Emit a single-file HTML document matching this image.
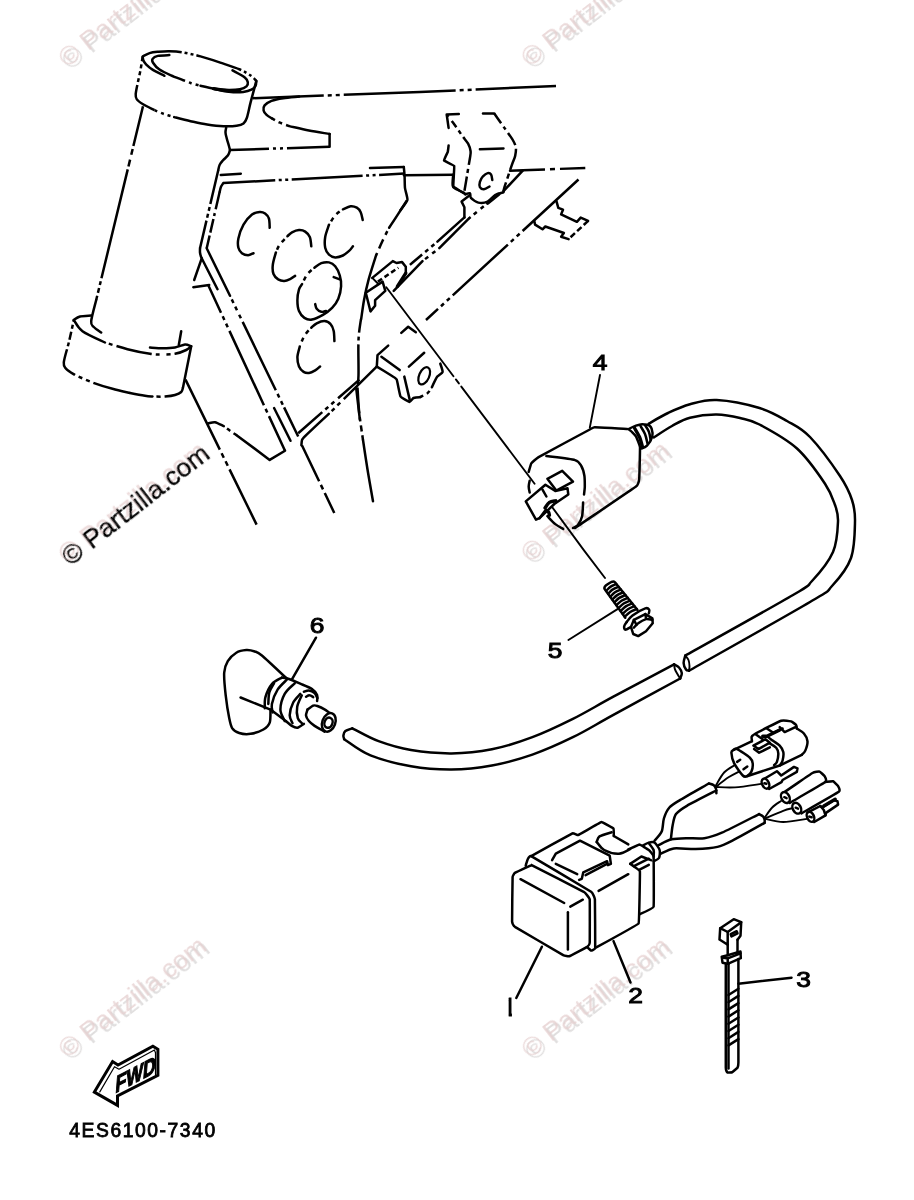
<!DOCTYPE html>
<html lang="en">
<head>
<meta charset="utf-8">
<title>Electrical 1 - 4ES6100-7340</title>
<style>
html,body{margin:0;padding:0;background:#fff;}
body{width:914px;height:1200px;overflow:hidden;position:relative;font-family:"Liberation Sans",sans-serif;}
svg{position:absolute;left:0;top:0;display:block;will-change:transform;}
.s{fill:none;stroke:#000;stroke-width:2.5;stroke-linecap:round;stroke-linejoin:round;}
.t{fill:none;stroke:#000;stroke-width:1.9;stroke-linecap:round;stroke-linejoin:round;}
.k{fill:none;stroke:#000;stroke-width:3.4;stroke-linecap:round;stroke-linejoin:round;}
.p{fill:none;stroke:#000;stroke-width:2.5;stroke-linecap:butt;stroke-linejoin:round;stroke-dasharray:30 3 3 3 3 3;}
.w{fill:#fff;stroke:#000;stroke-width:2.5;stroke-linecap:round;stroke-linejoin:round;}
.n{font-family:"Liberation Sans",sans-serif;font-weight:normal;font-size:22px;fill:#000;stroke:#000;stroke-width:0.95;}
.code{font-family:"Liberation Sans",sans-serif;font-weight:normal;font-size:19.3px;fill:#000;stroke:#000;stroke-width:0.8;}
.fwd{font-family:"Liberation Sans",sans-serif;font-weight:bold;font-style:normal;font-size:27px;fill:#000;stroke:#000;stroke-width:1.4;}
.wm{font-family:"Liberation Sans",sans-serif;font-size:26.5px;}
</style>
</head>
<body>
<svg width="914" height="1200" viewBox="0 0 914 1200">
<!-- watermarks -->
<defs>
<filter id="sh" x="-5%" y="-60%" width="110%" height="200%"><feOffset in="SourceAlpha" dx="-0.6" dy="-4.2" result="o"/><feFlood flood-color="#e6d0d0" flood-opacity="0.8"/><feComposite in2="o" operator="in" result="s"/><feMerge><feMergeNode in="SourceGraphic"/><feMergeNode in="s"/></feMerge></filter>
<filter id="shd" x="-5%" y="-60%" width="110%" height="200%"><feOffset in="SourceAlpha" dx="-0.6" dy="-4.2" result="o"/><feFlood flood-color="#eddcdc"/><feComposite in2="o" operator="in" result="s"/><feMerge><feMergeNode in="s"/><feMergeNode in="SourceGraphic"/></feMerge></filter>
</defs>
<text class="wm" transform="translate(70.3,70.5) rotate(-37.8)" x="0" y="0" fill="#e0dede" filter="url(#sh)">© Partzilla.com</text>
<text class="wm" transform="translate(533.0,69.9) rotate(-37.8)" x="0" y="0" fill="#e0dede" filter="url(#sh)">© Partzilla.com</text>
<text class="wm" transform="translate(70.3,566.4) rotate(-37.8)" x="0" y="0" fill="#000" stroke="#000" stroke-width="0.5" filter="url(#shd)">© Partzilla.com</text>
<text class="wm" transform="translate(533.0,565.5) rotate(-37.8)" x="0" y="0" fill="#e0dede" filter="url(#sh)">© Partzilla.com</text>
<text class="wm" transform="translate(70.3,1061.2) rotate(-37.8)" x="0" y="0" fill="#e0dede" filter="url(#sh)">© Partzilla.com</text>
<text class="wm" transform="translate(533.3,1061.4) rotate(-37.8)" x="0" y="0" fill="#e0dede" filter="url(#sh)">© Partzilla.com</text>
<!-- frame: head tube upper ring -->
<path class="p" d="M142.7 56.4 C143.8 55.9 147.1 53.9 149.6 53.1 C152.1 52.3 154.5 52.1 157.8 51.8 C161.1 51.5 165.2 51.1 169.3 51.2 C173.4 51.3 177.2 51.4 182.4 52.3 C187.6 53.2 194.2 54.7 200.5 56.4 C206.8 58.1 213.6 60.4 220.2 62.6 C226.8 64.8 234.7 67.2 239.9 69.5 C245.1 71.8 248.7 74.2 251.4 76.1 C254.1 78 255.5 80.2 256.3 81" style="stroke-dasharray:40 3 3 3 3 3 47 3 3 3 3 3 100"/>
<path class="s" d="M142.7 56.4 C142.8 57.1 142.8 59.1 143.4 60.5 C144 61.9 144.7 63 146.3 64.6 C147.9 66.2 149.9 68 152.9 69.9 C155.9 71.8 162.5 74.8 164.4 75.8"/>
<path class="s" d="M213.6 88.7 C215.2 89.1 220.2 90.3 223.5 90.9 C226.8 91.5 230 92 233.3 92.2 C236.6 92.4 240.2 92.3 243.2 91.9 C246.2 91.5 249.3 90.7 251.4 89.7 C253.5 88.7 254.7 87.5 255.5 86 C256.3 84.5 256.2 81.8 256.3 81"/>
<path class="k" d="M213.6 88.7 C215.2 89 220.2 89.8 223.5 90.2 C226.8 90.6 230.6 91 233.3 91.2 C236 91.4 238.8 91.2 239.9 91.2"/>
<path class="s" d="M169.3 55.1 C167.4 55.2 160.6 55.3 157.8 55.9 C155 56.5 153.4 57.7 152.6 58.9 C151.8 60.1 152 61.2 153.2 63 C154.3 64.8 156.5 67.5 159.5 69.5 C162.5 71.5 167.2 73.6 171 75.3 C174.8 77 180.5 79.1 182.4 79.9"/>
<path class="p" d="M182.4 79.9 C183.8 80.4 187.6 82 190.6 83 C193.6 84 198.8 85.3 200.5 85.8" style="stroke-dasharray:3 4 3 4 3 4"/>
<path class="s" d="M200.5 85.8 C202.7 86.3 209.2 88 213.6 88.7 C218 89.4 222.4 89.8 226.8 89.9 C231.2 90 236.6 89.8 239.9 89.2 C243.2 88.6 245.2 87.5 246.5 86.3 C247.8 85.1 248.1 83.8 247.8 82.3 C247.5 80.8 247.4 79.4 244.8 77.4 C242.2 75.4 234.6 71.6 232.5 70.4"/>
<path class="p" d="M142.7 56.4 C142.3 58.6 141.4 65.1 140.6 69.5 C139.8 73.9 138.6 78.6 137.8 82.7 C137 86.8 135.9 91.4 135.7 94.2 C135.5 97 135.6 97.7 136.8 99.4 C138 101.1 140.2 102.5 143.1 104.3 C146 106.1 152.6 109.2 154.5 110.2" style="stroke-dasharray:5 3 4 3 4 3 4 3 100"/>
<path class="p" d="M154.5 110.2 C156.2 110.9 161.1 113.1 164.4 114.2 C167.7 115.3 172.6 116.6 174.2 117.1" style="stroke-dasharray:3 4 3 4 3 4"/>
<path class="s" d="M174.2 117.1 C176.9 117.8 185.1 120 190.6 121.2 C196.1 122.4 201.6 123.7 207.1 124.5 C212.6 125.3 218.6 126 223.5 126.2 C228.4 126.4 233.3 126.2 236.6 125.7 C239.9 125.2 241.8 124.7 243.5 123.4 C245.2 122.1 245.6 121.5 246.8 118 C248 114.5 249 108.6 250.6 102.4 C252.2 96.2 255.4 84.6 256.3 81"/>
<!-- frame: head tube body -->
<path class="p" d="M143 106.2 L96.2 300" style="stroke-dasharray:41 3 6 5 7 3 112 3 4 3 5 3 100"/>
<path class="s" d="M96.2 300 C95.4 303.5 91.6 316.7 91.2 321.2 C90.8 325.7 92.1 325.1 93.8 327 C95.5 328.9 100 331.6 101.2 332.5"/>
<path class="s" d="M226.2 127.5 C226.1 128.3 225.4 130.7 225.5 132.5 C225.6 134.3 226.2 136.2 226.7 138.3 C227.2 140.4 228.1 143.1 228.7 145 C229.2 146.9 229.8 149.2 230 150"/>
<path class="p" d="M230 150 L329.6 146.8" style="stroke-dasharray:39 4 3 4 3 4 60"/>
<path class="s" d="M230 150 C229.7 150.9 229.2 153.6 228 155.3 C226.8 157 224.4 158.7 223 160.3 C221.6 161.9 220.5 163.1 219.7 164.7 C218.9 166.3 218.5 169.1 218.3 170"/>
<path class="p" d="M218.3 170 L200 248.3" style="stroke-dasharray:35 3 4 3 4 3 100"/>
<path class="s" d="M200 248.3 C200 248.6 199.9 251.8 200 252.5 C200.1 253.2 200.5 255.9 201.7 258.3 C202.9 260.7 216.4 287.1 217.5 289.2"/>
<path class="p" d="M223.3 183 L404.4 173.6" style="stroke-dasharray:52 3.5 3 3.5 3 3.5 71 3.5 3 3.5 3 3.5 40"/>
<path class="s" d="M223.3 183 C223.1 183.4 221.4 185.8 221 186.7 C220.6 187.6 219.8 191.2 219.7 191.7"/>
<path class="p" d="M219.7 191.7 L206.7 248.3" style="stroke-dasharray:18 4 3 3 14 3 100"/>
<path class="s" d="M206.7 248.3 L230 295.8"/>
<path class="s" d="M220.8 175 L240.8 173.7"/>
<path class="s" d="M201.7 258.3 L194.2 280"/>
<path class="s" d="M193.3 287.2 L209.2 285"/>
<!-- frame: top tube + gusset -->
<path class="p" d="M252.8 98.2 L420 92 L556 86" style="stroke-dasharray:71 4 4 4 4 4 112 4 4 4 4 4 100"/>
<path class="s" d="M299.1 96.6 C296.5 96.9 287.9 97.5 283.3 98.2 C278.7 98.9 274.6 99.7 271.5 100.9 C268.4 102.1 265.9 103.8 264.6 105.4 C263.3 107 263.3 108.8 263.6 110.4 C263.9 112 265.3 113.6 266.6 114.9 C267.9 116.2 270.7 117.7 271.5 118.2"/>
<path class="p" d="M271.5 118.2 C272.8 118.9 276.4 121.1 279.4 122.4 C282.3 123.7 287.6 125.5 289.2 126.1" style="stroke-dasharray:4 4 4 4 4 4"/>
<path class="s" d="M289.2 126.1 C292.5 126.8 302.2 129.2 308.9 130.5 C315.6 131.8 326.2 133.4 329.6 134"/>
<path class="s" d="M329.6 134 L329.6 146.8"/>
<path class="s" d="M370 167.9 L403.8 167.1"/>
<path class="s" d="M403.8 167.1 C403.9 168 404.5 174.2 404.6 176.3 C404.7 178.4 404.7 185.8 405 188.2 C405.3 190.6 407.8 197.8 407.4 200 C406.9 202.2 401.2 209 400.5 210"/>
<!-- frame: down tube right edge curve -->
<path class="s" d="M406.7 200.7 C405.3 202.9 401.3 209.2 398.4 213.7 C395.5 218.2 390.7 225.4 389.1 227.7"/>
<path class="p" d="M389.1 227.7 C388 229.9 384.8 236 382.6 240.7 C380.4 245.3 377.1 253.1 376 255.6" style="stroke-dasharray:0 4 4 5 10 5 40"/>
<path class="s" d="M376 255.6 C374.8 259.6 370.6 272.3 368.6 279.7 C366.6 287.1 365.2 293.7 364 300.2 C362.8 306.7 361.7 315.7 361.2 318.8"/>
<path class="p" d="M361 318.8 C360.6 322.3 358.9 330.6 358.5 340 C358.1 349.4 358.7 367.1 358.5 375 C358.3 382.9 357.7 385.4 357.5 387.5" style="stroke-dasharray:14 4 4 4 40"/>
<path class="p" d="M357.5 387.5 C357.8 391.7 358.3 403.8 359.2 412.5 C360.1 421.2 362.4 435.4 363 440" style="stroke-dasharray:26 4 4 4 6 4 40"/>
<path class="s" d="M363 440 C363.8 445.4 366.3 462.3 368 472.5 C369.7 482.7 372.2 496.4 373 501.2"/>
<!-- frame: second line right part + upper bracket -->
<path class="s" d="M403.9 175.2 L453.2 174.7"/>
<path class="s" d="M453.2 174.7 C453.2 175.3 452.1 184.8 452.7 185.8 C453.3 186.8 464.7 193.8 465.3 194.2"/>
<path class="s" d="M465.3 194.2 C465.9 194.1 469.3 192.8 470 193.3 C470.7 193.8 469.8 196.7 470.9 197.9 C472 199.1 476.1 202.1 478.3 202.6 C480.5 203.1 485.4 202.6 487.6 201.6 C489.8 200.6 493 196.3 495.1 195.1 C497.2 193.9 502.4 192.7 503.5 192.3"/>
<path class="s" d="M470 195.1 L461.6 201.6 L464.4 207.2 L464.4 217.4"/>
<path class="s" d="M458.8 114 L446.7 114.5 L448.6 127.9"/>
<path class="p" d="M446.7 114.5 C447.7 115.8 452.1 121.3 454.2 124.2 C456.3 127.1 460.7 133.7 462.6 136.3 C464.5 138.9 467 141.7 468.1 143.7 C469.2 145.7 470.3 149.3 470.6 151.2 C470.9 153.1 470.5 154.6 470 157.7 C469.5 160.8 467.9 169.9 467.2 174.4 C466.5 178.9 464.8 188.9 464.4 191.1" style="stroke-dasharray:3 5 8 4 4 4 30 4 4 4 14 4 4 4 30"/>
<path class="s" d="M448.6 145.6 C448.6 145.8 447.9 151.6 447.7 152.1 C447.5 152.6 443.8 160 444 160.5 C444.2 161 453.9 165.1 454.2 166 C454.5 166.9 453 186.5 453.3 187.4 C453.6 188.3 464 192.8 464.4 193"/>
<path class="s" d="M483 113.4 L494.2 113.4"/>
<path class="p" d="M494.2 113.4 C495.6 115.3 501.9 124.4 504.4 127.9 C506.9 131.4 511.3 137.4 512.8 140 C514.3 142.6 515.6 145.3 515.9 147.4 C516.2 149.5 515.7 153.4 515.2 155.8 C514.7 158.2 513.2 160.9 511.8 165.1 C510.4 169.3 505.5 183.8 504.4 187.4 C503.3 191 503.6 191.5 503.5 192.1" style="stroke-dasharray:12 4 4 4 14 4 22 4 5 4 40"/>
<path class="s" d="M479.9 149.3 L503.5 148.4"/>
<path class="s" d="M492.3 180 C492.1 179.1 491.8 175.6 491 174.4 C490.2 173.2 489 172.8 487.7 173.1 C486.4 173.4 484.3 174.9 483 176.3 C481.7 177.8 480.4 180 479.9 181.8 C479.4 183.6 479.2 185.8 479.9 187.1 C480.6 188.3 482.3 189.4 483.9 189.3 C485.5 189.2 488.6 187 489.5 186.5"/>
<path class="s" d="M510 170.7 L523 170.3 L503.5 191.1"/>
<path class="p" d="M523 170.3 L585.3 167.9" style="stroke-dasharray:22 5 5 5 40"/>
<!-- frame: diagonals below bracket -->
<path class="s" d="M464.4 217.4 L437.4 241.6"/>
<path class="p" d="M437.4 241.6 L407.7 266.7" style="stroke-dasharray:0 4 4 4 4 4 12"/>
<path class="k" d="M498.8 194.2 L487.6 203.1"/>
<path class="p" d="M487.6 203.1 L469 218.4" style="stroke-dasharray:0 5 4 5 4 4 12"/>
<path class="s" d="M469 218.4 L439.3 248.1"/>
<path class="p" d="M439.3 248.1 L422.5 261.1" style="stroke-dasharray:0 5 4 5 4 4 12"/>
<path class="s" d="M422.5 261.1 L393.7 290.9"/>
<path class="k" d="M405.8 273.2 L397.4 286.3"/>
<path class="s" d="M372.3 277.9 L392.8 261.1 L396.5 263 L402.1 262.1 L405.8 266.7 L405.8 273.2"/>
<path class="s" d="M365.8 292.8 L382.6 281.6 L385.3 290.9 L375.1 300.2 L375.1 305.8 L370.5 311.4 L365.8 292.8"/>
<path class="t" d="M372.3 277.9 L377.9 283.5"/>
<path class="p" d="M377.9 281.6 L398.4 267.7" style="stroke-dasharray:5 3"/>
<path class="p" d="M578.5 179.5 L426 320" style="stroke-dasharray:76 4 4 4 4 4 75 4 4 4 4 4 100"/>
<path class="s" d="M556.5 201.4 L558.3 207.9 L563 209.7 L561.1 214.4 L576.9 221.8 L580.7 217.6 L588.1 220.9"/>
<path class="p" d="M588.1 220.9 L568.6 239.1" style="stroke-dasharray:6 3"/>
<path class="s" d="M568.6 239.1 L561.1 236.7 L563.9 233 L545.3 226.5 L542.5 229.3 L535.1 224.6 L534.2 220.9"/>
<!-- frame: lightening holes -->
<path class="s" d="M269.7 227.8 C269.6 226.2 269.7 220.9 268.9 218.5 C268.1 216.1 266.6 214.7 265.1 213.6 C263.6 212.5 261.9 211.8 259.7 212 C257.5 212.2 254.7 212.5 252 214.6 C249.3 216.7 245.8 220.7 243.5 224.7 C241.2 228.7 239.2 234.7 238.4 238.5 C237.6 242.3 237.8 245.4 238.4 247.8 C239 250.2 240.3 252 241.9 253.2 C243.5 254.4 246.2 255.2 248.1 255.2 C250 255.2 252.6 253.5 253.5 253.2"/>
<path class="s" d="M311.3 246.3 C311.1 244.8 310.8 239.4 309.8 237 C308.8 234.6 307 232.8 305.2 231.6 C303.4 230.4 301.2 230 299 230.1 C296.8 230.2 293.9 231.4 292 232.4 C290.1 233.4 288.2 235.6 287.4 236.2"/>
<path class="p" d="M287.4 236.2 C286.1 237.6 281.6 242 279.7 244.7 C277.8 247.4 276.5 251.1 275.9 252.4" style="stroke-dasharray:0 4 4 5 4 5 30"/>
<path class="s" d="M275.9 252.4 C275.4 254.5 273.2 261.2 272.8 264.8 C272.4 268.4 272.6 271.6 273.5 274 C274.4 276.4 276.4 278.2 278.2 279.4 C280 280.5 282.2 281 284.3 280.9 C286.4 280.8 288.7 279.7 290.5 278.9 C292.3 278.1 294.3 276.4 295.1 275.9"/>
<path class="s" d="M362.7 220 C362.4 218.7 361.7 214.4 360.7 212.3 C359.7 210.2 358.5 208.7 356.8 207.7 C355.1 206.7 352.9 205.9 350.6 206.2 C348.3 206.5 344.2 208.8 342.9 209.3"/>
<path class="p" d="M342.9 209.3 C341.6 210.3 337.5 212.8 335.2 215.4 C332.9 218 330 223.1 329 224.7" style="stroke-dasharray:0 4 4 5 4 5 30"/>
<path class="s" d="M329 224.7 C328.4 226.8 325.8 233.2 325.2 237 C324.6 240.8 324.6 244.9 325.2 247.8 C325.8 250.8 327.3 253.1 329 254.7 C330.7 256.3 332.9 257.3 335.2 257.4 C337.5 257.5 340.6 256.6 342.9 255.5 C345.2 254.4 347.4 252.4 349.1 250.9 C350.8 249.4 352.3 247.1 352.9 246.3"/>
<path class="s" d="M314.4 267.8 C315.5 267 318.9 264.1 321.3 263.2 C323.7 262.3 326.7 261.9 329 262.4 C331.3 262.9 333.4 264.1 335.2 266.3 C337 268.5 338.8 272.2 339.8 275.5 C340.8 278.8 341.4 282.4 341.1 286.3 C340.9 290.2 339.8 295.1 338.3 298.7 C336.8 302.3 334.7 305.2 332.1 307.9 C329.5 310.6 326.2 313 322.9 314.9 C319.6 316.8 315.2 319 312.1 319.5 C309 320 306.6 319.3 304.4 317.9 C302.2 316.5 300.2 313.9 299 311 C297.8 308.1 297.4 303.8 297.4 300.2 C297.4 296.6 298.2 292.1 299 289.4 C299.8 286.7 301.6 284.9 302.1 284"/>
<path class="p" d="M302.1 284 C303 282.3 305.4 276.7 307.5 274 C309.6 271.3 313.2 268.8 314.4 267.8" style="stroke-dasharray:0 4 4 5 4 5 30"/>
<path class="s" d="M333.7 277.1 L339.8 279.4"/>
<path class="s" d="M315.2 304.1 C315.4 304.9 315.7 307.4 316.7 308.7 C317.7 310 319.8 311.4 321.3 311.8 C322.9 312.2 325.2 311.1 326 311"/>
<path class="s" d="M334.4 341.1 C334.3 339.4 334.3 333.9 333.7 331.1 C333.1 328.3 332.2 325.8 330.6 324.1 C329.1 322.4 326.7 321.1 324.4 321 C322.1 320.9 318.9 322.2 316.7 323.3 C314.5 324.4 312.2 327 311.3 327.7"/>
<path class="p" d="M311.3 327.7 C310.1 329 306.3 332.6 304.4 335.7 C302.5 338.8 300.6 344.7 299.8 346.5" style="stroke-dasharray:0 4 4 5 4 5 30"/>
<path class="s" d="M299.8 346.5 C299.4 348.3 297.5 354 297.4 357.3 C297.3 360.6 298 364.1 299 366.5 C300 368.9 301.9 370.8 303.6 371.9 C305.3 373 307.1 373.2 309 373 C310.9 372.8 313.3 371.5 315.2 370.4 C317.1 369.3 319.3 367.1 320.1 366.5"/>
<!-- frame: plate left/lower edges -->
<path class="p" d="M208.4 285.5 L285 450.7" style="stroke-dasharray:30 4 4 4 4 4 82 4 4 4 40"/>
<path class="s" d="M274.1 408 L290.5 440.8"/>
<path class="p" d="M230 295.8 L298.2 436.5" style="stroke-dasharray:0 4 4 4 4 5 4 4 76 4 4 4 4 3 40"/>
<path class="s" d="M208.4 423.3 C209.3 423.2 212.9 421.8 215 422.2 C217.1 422.6 222.6 425.7 223.8 426.2"/>
<path class="p" d="M223.8 426.2 C224.9 427 228.1 429.5 230.3 431 C232.5 432.5 235.8 434.7 236.9 435.4" style="stroke-dasharray:0 4 4 4 40"/>
<path class="s" d="M236.9 435.4 L269.7 459.9 L285 450.7"/>
<path class="p" d="M185.5 379.6 L256.6 524.6" style="stroke-dasharray:78 4 5 4 5 4 100"/>
<path class="p" d="M298.2 433.2 L359.4 379.6" style="stroke-dasharray:32 4 4 4 4 5 40"/>
<path class="s" d="M301.4 445.2 C301.5 444.6 301.6 440.8 302.1 439.7 C302.7 438.6 304.2 436.9 306.9 434.3 C309.6 431.7 326.6 415.9 328.8 413.9"/>
<path class="p" d="M328.8 413.9 L376.7 366.7" style="stroke-dasharray:0 4 4 4 4 5 60"/>
<path class="p" d="M301.9 445.2 L334.3 513" style="stroke-dasharray:40 4 5 4 40"/>
<!-- frame: lower bracket -->
<path class="s" d="M401.3 332.9 L408.2 326.8 L415.8 332.2"/>
<path class="s" d="M388.2 345.6 L377.5 355.1 L376.8 366.6"/>
<path class="s" d="M381.4 356.7 L399.7 370.1"/>
<path class="s" d="M376.8 366.6 C377.5 367 389.5 374.4 390.5 375 C391.5 375.6 396.2 378.5 396.7 379.6 C397.2 380.7 399.9 395.4 400.5 396.5 C401.1 397.6 409.1 401.8 409.7 401.9 C410.3 402 413 398.2 413.5 398 C414 397.8 419.3 397.3 419.6 397.3"/>
<path class="p" d="M419.6 397.3 C420.9 396.6 425.2 395.1 427.3 393.4 C429.4 391.7 431.1 388.3 431.9 387.3" style="stroke-dasharray:4 4"/>
<path class="s" d="M431.9 387.3 C432.4 386.2 436.2 378.1 437.3 376.6 C438.4 375.1 442.3 373.3 442.6 372 C442.9 370.7 440.5 364.4 440.3 363.6"/>
<path class="s" d="M404.3 376.6 L409.7 399.6"/>
<path class="s" d="M408.9 366.6 L424.2 352.8"/>
<ellipse class="k" cx="424.2" cy="375.8" rx="5" ry="9.2" transform="rotate(24 424.2 375.8)" style="stroke-width:2.2"/>
<path class="s" d="M356.1 387.3 L359.9 419.9"/>
<!-- frame: lower ring of head tube -->
<path class="s" d="M91.2 315.5 C89.3 315.7 82.9 315.8 80 316.5 C77.1 317.2 74.8 319.4 73.8 320"/>
<path class="s" d="M73.8 320 C75.2 321.9 77.3 327.4 82.5 331.2 C87.7 334.9 101.2 340.6 105 342.5"/>
<path class="p" d="M105 342.5 C108.8 343.6 120 347.3 127.5 349.2 C135 351.1 144.2 352.9 150 353.8 C155.8 354.7 160.4 354.4 162.5 354.5" style="stroke-dasharray:0 4 4 4 36 4 4 4 40"/>
<path class="p" d="M162.5 354.5 C164.6 354.4 171.1 354.6 175 353.8 C178.9 353.1 183.5 351.3 186.2 350 C188.9 348.7 190.4 346.8 191.2 346.2" style="stroke-dasharray:0 4 4 4 40"/>
<path class="p" d="M73.8 320 C73 323.8 70.5 335.4 68.8 342.5 C67.1 349.6 64.2 358.1 63.8 362.5 C63.4 366.9 64.3 366.7 66.2 368.8 C68.1 370.9 73.5 374 75 375" style="stroke-dasharray:2 3 4 3 8 3 4 3 100"/>
<path class="p" d="M75 375 C77.9 376.2 86.2 380.2 92.5 382.5 C98.8 384.8 106.2 387.1 112.5 388.8 C118.8 390.6 127.1 392.3 130 393" style="stroke-dasharray:0 4 4 4 4 4 40"/>
<path class="s" d="M130 393 C132.5 393.5 141.2 395.2 145 395.8 C148.8 396.4 151.2 396.4 152.5 396.5"/>
<path class="p" d="M152.5 396.5 C154.6 396.5 161.2 396.8 165 396.5 C168.8 396.2 172.3 395.8 175 395 C177.7 394.2 179.9 393.2 181.2 392 C182.5 390.8 182.7 388.2 183 387.5" style="stroke-dasharray:0 4 4 4 40"/>
<path class="s" d="M183 387.5 L191.2 346.2"/>
<path class="s" d="M181.2 331.2 L178.8 345"/>
<path class="s" d="M150 347.5 C151.7 347.6 159.2 348.2 162.5 348.2 C165.8 348.2 172 348 175 347.5 C178 347 182.8 344.7 185 344.5 C187.2 344.3 190.4 346 191.2 346.2"/>
<!-- ignition coil (4) -->
<path class="s" d="M528.7 471.9 C528.8 471.6 530.9 464 531.3 463.4 C531.7 462.8 536.3 458.5 538.6 457.1 C540.9 455.7 587.6 430.7 589.8 429.5 C592 428.3 593.2 427.2 594.7 427.2 C596.2 427.2 626.5 428.7 628.2 429.1 C629.9 429.5 635.5 435.7 636 436.4 C636.5 437.1 639.9 445.6 640 447.3 C640.1 449 639.4 477.2 639.2 478.8 C639 480.4 638.6 484.6 636 486.6 C633.4 488.6 577.4 526.3 575 528"/>
<path class="s" d="M546.4 456.1 C549.7 456.6 570.9 458.9 575 460.1 C579.1 461.3 580.2 464.2 581.3 466 C582.4 467.8 584 473.4 584.4 475.8 C584.8 478.2 584.8 484.4 584.8 486.6 C584.8 488.8 584.1 493.6 584 494.5"/>
<path class="s" d="M583.1 502.4 C583 504 582.7 513.6 582.1 516.2 C581.5 518.8 579 523.6 577.9 525 C576.8 526.4 573.6 527.6 573 528"/>
<path class="s" d="M529.7 480.7 C529.5 481.7 528.7 484.6 528.7 486.6 C528.7 488.6 529.5 491.6 529.7 492.6"/>
<path class="s" d="M547.4 516.2 C548.7 517.5 552.7 522 555.3 524.1 C557.9 526.2 561.9 528.2 563.2 529"/>
<path class="s" d="M547.4 478.8 L562.2 470.9 L573 481.7 L556.3 490.6Z"/>
<path class="w" d="M525.8 501.4 L545.4 484.7 L555.3 491 L567.5 488.2 L568.3 494.5 L554.3 504 L539.5 518.2 L536 519.7Z"/>
<path class="s" d="M542.5 489.6 L546.4 496.5"/>
<path class="k" d="M545.1 507.9 C545.8 507 547.6 503.6 549.4 502.4 C551.2 501.2 554.7 501.1 555.7 500.8"/>
<path class="k" d="M546.4 510.3 C546.8 510.6 548.1 511.4 548.6 512.2 C549.1 513 549.3 514.7 549.4 515.2"/>
<path class="s" d="M539.5 518.2 L545.4 510.3"/>
<path class="t" d="M386.3 287.2 L534.6 483.7" style="stroke-dasharray:111.5 4 5 4 300"/>
<path class="t" d="M552.3 507.3 L583.8 550.1 L605 578"/>
<path class="s" d="M628.6 429 C629.6 428.5 634.2 426.2 636 425.6 C637.8 425 640.5 424.3 642.2 424.2 C643.9 424.1 647.9 424.9 648.8 425"/>
<path class="s" d="M648.8 425 C649.3 425.6 651 426.7 651.6 428.6 C652.2 430.5 653.1 433.5 652.3 436.3 C651.5 439.1 649 443.6 647 445.6 C645 447.7 641.6 448.1 640.5 448.6"/>
<path class="k" d="M634.5 428 C635.3 429.5 638.1 433.8 639.5 437 C640.9 440.2 642.1 445.8 642.6 447.5"/>
<path class="s" d="M640.5 426 C641.2 427.3 643.8 431.1 645 434 C646.2 436.9 647.1 441.9 647.5 443.5"/>
<path class="s" d="M645 425 C645.7 426.2 648.1 429.5 649 432 C649.9 434.5 650.3 438.7 650.6 440"/>
<path class="t" d="M600 375 L589.8 427.6"/>
<!-- high tension cable -->
<path class="s" d="M648.8 423.6 C652 421.8 661.1 416.2 668 413 C674.9 409.8 681.9 406.5 690 404.3 C698.1 402.1 705.1 399.4 716.7 400 C728.3 400.6 747.8 404.5 759.5 408 C771.2 411.5 778.6 416.2 787 421 C795.4 425.8 801.2 427.8 810 437 C818.8 446.2 833 465.5 840 476 C847 486.5 849.5 492.4 852 500 C854.5 507.6 855.2 511.8 855 521.5 C854.8 531.2 854.8 547.2 851 558 C847.2 568.8 838.8 578.7 832 586 C825.2 593.3 833.8 587.9 810 602 C786.2 616.1 709.2 659.2 689 670.7"/>
<path class="s" d="M653.8 437.4 C656.8 435.5 666 429.3 672 426 C678 422.7 682.5 419.6 690 417.7 C697.5 415.8 708.4 414.4 716.7 414.5 C725 414.6 732.9 416.3 740 418 C747.1 419.7 750 419.4 759.5 424.5 C769 429.6 786.1 438.6 797 448.5 C807.9 458.4 818.7 474.3 825 483.7 C831.3 493.1 832.8 498.7 835 505 C837.2 511.3 838.3 513.7 838 521.5 C837.7 529.3 837.3 542.1 833 552 C828.7 561.9 818.7 573.8 812 581 C805.3 588.2 814.1 582.6 793 595 C771.9 607.4 703.2 645.5 685.3 655.6"/>
<path class="s" d="M685.3 655.6 C685 656.8 683.5 660.7 683.6 663 C683.7 665.3 685.1 668.2 686 669.5 C686.9 670.8 688.5 670.5 689 670.7"/>
<path class="t" d="M685.3 655.6 C685.8 656.3 687.8 658.3 688.5 660 C689.2 661.7 689.4 664.2 689.5 666 C689.6 667.8 689.1 669.9 689 670.7"/>
<path class="s" d="M352.3 728.3 C356.7 730.4 368.8 737.6 378.6 741.2 C388.4 744.8 398.9 748.1 411 750.1 C423.1 752.1 438 753.5 451.5 753.4 C465 753.3 478.4 752 491.9 749.3 C505.4 746.6 518.9 742.3 532.4 737.2 C545.9 732.1 559.4 725.6 572.9 718.9 C586.4 712.1 596.5 705.8 613.4 696.7 C630.3 687.6 664 669.7 674.1 664.3"/>
<path class="s" d="M344.2 739.2 C348.6 741.9 359.4 750.9 370.5 755.4 C381.6 759.9 397.5 763.9 411 766.3 C424.5 768.7 438 769.7 451.5 769.6 C465 769.5 478.4 768 491.9 765.5 C505.4 763 518.9 759.3 532.4 754.6 C545.9 749.9 559.4 743.8 572.9 737.2 C586.4 730.6 595.5 724.7 613.4 714.9 C631.3 705.1 669.1 684.6 680.2 678.5"/>
<path class="s" d="M352.3 728.3 C351.1 728.8 346.9 729.9 345.4 731.1 C343.9 732.3 343.6 734.1 343.4 735.5 C343.2 736.9 344.1 738.6 344.2 739.2"/>
<path class="s" d="M674.1 664.3 C674.9 664.8 677.7 666 679 667.5 C680.3 669 681.6 671.4 681.8 673.2 C682 675 680.5 677.6 680.2 678.5"/>
<path class="t" d="M674.1 664.3 C674.2 665.1 674.4 667.5 674.9 669.1 C675.4 670.7 676.5 672.4 677.4 674 C678.3 675.6 679.7 677.8 680.2 678.5"/>
<!-- plug cap (6) -->
<path class="s" d="M286.8 678.6 C283.5 675.5 266.2 659.1 261.9 655.5 C257.6 651.9 256.9 652.2 254.8 651.5 C252.7 650.8 248.8 649.9 246.3 650.1 C243.8 650.3 238.8 651.2 236.3 652.7 C233.8 654.2 229.4 658.5 227.8 661.2 C226.2 663.9 224.5 668.1 224.2 672.6 C223.9 677.1 225 689.2 225.7 695.3 C226.4 701.4 228.3 713.7 229.2 718.1 C230.1 722.5 230.8 726.1 232.1 728.1 C233.4 730.1 236.7 732.2 239.2 733 C241.7 733.8 247.4 734.3 250.6 733.8 C253.8 733.3 260.8 731 263.4 729.5 C266 728 268.9 725.1 269.8 722.4 C270.7 719.7 270.4 711.3 270.5 709.6"/>
<path class="s" d="M240.6 697.5 L270.5 709.6 L286.1 721.2"/>
<path class="s" d="M281.9 677.6 C282.8 677.8 286.5 678.2 289 679 C291.5 679.8 297.3 682.4 300.3 683.7 C303.3 685 309.5 687.4 311.7 688.9 C313.9 690.4 316.4 693.5 317.1 695.1 C317.8 696.7 317.1 700.2 317.1 701"/>
<path class="s" d="M286.1 721.2 C286.9 721.8 290.3 725 291.8 725.9 C293.3 726.8 295.9 728.1 297.5 727.8 C299.1 727.5 303 724.3 303.9 723.8"/>
<path class="s" d="M281.9 677.6 C280.2 678.7 274.6 680.8 271.9 684 C269.2 687.2 266.7 692.8 265.5 696.8 C264.3 700.8 264.9 706.3 264.8 708.2"/>
<path class="s" d="M274 683.3 C273.2 684.8 270.2 689.1 269.3 692.5 C268.4 695.9 268.5 702 268.3 703.9"/>
<path class="s" d="M286.8 679.7 C285.3 681.4 280.1 685.7 277.6 689.7 C275.1 693.7 272.7 700.1 271.9 703.9 C271.1 707.7 272.5 711 272.6 712.4"/>
<path class="s" d="M294.7 683.3 C293 685.1 287.1 689.5 284.7 693.9 C282.3 698.3 280.4 705.1 280.4 709.6 C280.4 714.1 284 719.1 284.7 721"/>
<path class="s" d="M300.3 693.9 C299.1 695.3 295 698.9 293.2 702.5 C291.4 706.1 289.8 711.9 289.7 715.3 C289.6 718.7 292 721.8 292.5 723.1"/>
<path class="s" d="M301.8 695.3 C301 697.2 297.9 702.9 297.2 706.7 C296.5 710.5 297 715.4 297.8 718.1 C298.6 720.8 301.1 722.3 301.8 723.1"/>
<path class="s" d="M303.9 691.8 C304.7 691.6 307.1 690.2 308.9 690.4 C310.7 690.6 313.2 691.9 314.6 693.2 C316 694.5 316.9 697.4 317.4 698.2"/>
<path class="s" d="M306 696.8 C306.6 696.5 308.4 695.2 309.6 695.3 C310.8 695.3 312.6 696.8 313.2 697.1"/>
<path class="s" d="M307.5 709.6 C308.1 709.2 312.2 706 313.2 705.6 C314.2 705.2 316.3 705.6 317.4 706 C318.5 706.4 323.3 708.6 324.5 709.3 C325.7 710 329 712.4 329.5 712.7"/>
<path class="s" d="M307.5 709.6 C307.4 710.2 305.9 714.2 306 715.3 C306.1 716.4 308 719.9 308.9 721 C309.8 722.1 313 724.8 314.6 725.9 C316.2 727 323.5 731 324.5 731.6"/>
<ellipse class="s" cx="328.8" cy="722.4" rx="6.5" ry="9.6" transform="rotate(20 328.8 722.4)"/>
<ellipse class="s" cx="328.5" cy="722.7" rx="4" ry="5.2" transform="rotate(20 328.5 722.7)"/>
<path class="s" d="M316 637.7 L291.8 679.7"/>
<!-- CDI unit (1) + holder (2) -->
<path class="s" d="M531.6 865.1 C531.2 865.3 515.4 872.6 514.9 872.9 C514.4 873.2 512.7 875.7 512.6 877 C512.5 878.3 512 920.3 512.1 921.6 C512.2 922.9 513.5 925.9 514.9 926.8 C516.3 927.7 561.8 954.3 563.2 955.1 C564.6 955.9 568.6 956.4 569.2 956.2 C569.8 956 586.9 947.1 587.4 946.7 C587.9 946.3 589.6 944.3 589.7 943 C589.8 941.7 589.9 900.7 589.7 899.3 C589.5 897.9 585.2 892.7 583.7 891.8 C582.2 890.9 533 865.8 531.6 865.1"/>
<path class="s" d="M520.5 879.2 L564.2 903"/>
<path class="s" d="M567.9 912.3 L567.9 949.5"/>
<path class="s" d="M570.3 906.7 L582.8 899.7"/>
<path class="s" d="M525.7 865.8 C525.7 865.6 527.4 860.2 527.5 859.9 C527.6 859.6 529.5 855.2 531.2 856.1 C532.9 857 589.4 890.6 591.1 891.8 C592.8 893 594.8 897.8 594.9 899.3 C595 900.8 595.3 946.6 595.2 948 C595.1 949.4 591.3 950.6 591.1 950.6 C590.9 950.6 587.5 947.4 587.4 947.3"/>
<path class="s" d="M531.2 856.1 C532 855.6 571.6 833.7 572.5 833.3 C573.4 832.9 577.5 835.3 578.1 835.1 C578.7 834.9 600.7 822.2 601.4 822.1 C602.1 822 613.3 828.3 613.5 828.6 C613.7 828.9 613.8 835.9 613.8 836"/>
<path class="s" d="M595.2 948 C595.9 947.6 637.9 924.8 638.6 923.5 C639.3 922.2 640 872.4 639.9 871.4 C639.8 870.4 630.4 864 630.2 863.9"/>
<path class="s" d="M628.3 849.4 C628.6 849.3 639 844.4 639.5 844.4 C640 844.4 648.4 849.7 648.8 850 C649.2 850.3 653.5 855 653.6 856.5 C653.7 858 654 905.2 653.6 906.7 C653.2 908.2 640.3 914 639.9 914.2"/>
<path class="s" d="M552.1 860.2 L555.8 853.7 L580 840.7 L609.7 855.6 L610.9 863.9 L607.9 865.1 L607.1 861.2 L583.3 872.3 L581.8 878.8 L579.1 879.9"/>
<path class="s" d="M555.8 863.9 L577.2 874.2"/>
<path class="s" d="M585.6 875.1 L607 863.9"/>
<path class="s" d="M596.7 842 C597.1 841.3 597.5 837.7 599.5 836.4 C601.5 835.1 610 832.8 611.6 832.3"/>
<path class="s" d="M596.7 842 C598 843.3 600.5 848 604.2 850 C607.9 852 614.7 853.9 619 853.7 C623.3 853.6 628.3 849.9 630.2 849.1"/>
<path class="s" d="M613.8 836 L628.3 844.4"/>
<path class="s" d="M598.6 890.9 L628.3 874.2"/>
<path class="s" d="M630.2 863.9 L641.4 856.5 L651 860.2"/>
<path class="s" d="M633.9 866.2 L648.8 858.7"/>
<path class="s" d="M639.1 869.9 L648.8 864.9"/>
<path class="s" d="M643.2 845.3 C643.9 844.9 647.3 843 648.8 842.6 C650.3 842.2 653 841.6 654.4 842.6 C655.8 843.6 659 847.9 659.6 850 C660.2 852.1 659.8 856.5 659 858 C658.2 859.5 654.3 860.8 653.6 861.2"/>
<path class="s" d="M648.8 843.1 C649.4 844 653 848.2 653.6 850 C654.2 851.8 653.6 855.6 653.6 856.5"/>
<path class="s" d="M541.9 946.7 L516.3 998"/>
<path class="s" d="M613.5 941.1 L630.5 982.5"/>
<!-- wire harness from CDI -->
<path class="s" d="M654.5 840.8 C655.5 839.6 660.4 834.6 661.7 831.6 C663 828.6 662.9 821.7 663.9 818.5 C664.9 815.3 667.2 810 669.4 807.5 C671.6 805 675 803.1 680.3 799.9 C685.6 796.7 705 785.7 708.8 783.5"/>
<path class="s" d="M670.9 839.3 C671.1 837.4 672 828.4 672.7 825 C673.4 821.6 674.1 816.7 676 814.1 C677.9 811.5 681.5 808.9 686.9 805.8 C692.3 802.7 712.5 792.5 716.4 790.5"/>
<path class="s" d="M708.8 783.5 C709.6 783.8 712.6 784.3 713.8 785.2 C715 786.1 715.6 787.5 716 788.9 C716.4 790.2 716.3 792.6 716.4 793.3"/>
<path class="s" d="M658.4 845.2 C660.2 844.4 667.8 840.2 671.6 839.3 C675.4 838.4 682.5 838.3 686.9 838.2 C691.3 838.1 699.7 838.9 704.4 838.2 C709.1 837.5 714.6 835.9 721.9 832.7 C729.2 829.5 754.1 816.6 759.1 814.1"/>
<path class="s" d="M660.6 853.9 C662.4 853.2 669.1 849 673.8 848.4 C678.5 847.8 689.8 849.3 695.6 849.1 C701.4 848.9 712.5 848.1 717.5 846.9 C722.5 845.7 726.5 843.6 732.8 840.4 C739.1 837.2 760.4 825.1 764.6 822.8"/>
<path class="s" d="M759.1 814.1 C759.8 814.5 762.1 815.4 763 816.3 C763.9 817.2 764.3 818.5 764.6 819.6 C764.9 820.7 764.6 822.3 764.6 822.8"/>
<path class="t" d="M715.8 785.6 C717.2 783.4 720.9 776 724.1 772.5 C727.3 769 733.2 766.2 735 764.9"/>
<path class="t" d="M716.2 786.7 C718.2 785.1 724.6 779.8 728.5 777.3 C732.4 774.8 737.6 772.4 739.4 771.4"/>
<path class="t" d="M716.2 787 C719.3 787.1 727.5 787.9 735 787.4 C742.5 786.9 756.9 784.5 761.3 783.9"/>
<path class="t" d="M764.8 817.4 C766 815.8 769.5 810.2 772.2 807.5 C774.9 804.8 779.5 802.1 781 801"/>
<path class="t" d="M765.2 818.5 C768.2 817.2 778.6 812.5 783.2 810.8 C787.8 809 791.4 808.5 793 808"/>
<path class="t" d="M765.2 818.9 C768.2 819.4 776.2 822 783.2 822 C790.2 822 803.2 819.4 807.2 818.9"/>
<!-- 2-pin connector -->
<path class="s" d="M731.4 752.7 C731.3 750.9 732.7 750.4 733.5 749.9 C734.3 749.4 734.9 748.1 737.1 749.1 C739.3 750.1 747.8 755.8 749.9 757.7 C752 759.6 752.5 761.5 752.7 763.4 C752.9 765.3 752.1 770.2 751.3 771.9 C750.5 773.6 748.1 775.7 747 776.2 C745.9 776.7 744.5 777.2 742.8 775.5 C741.1 773.8 735.7 766.4 734.2 763.4 C732.7 760.4 731.5 754.5 731.4 752.7Z"/>
<path class="s" d="M734.2 749.6 L751.6 741.3"/>
<path class="s" d="M752 741.3 C752 741 751.4 737.5 751.6 737 C751.8 736.5 753.6 734.6 755.6 733.5 C757.6 732.4 778.8 721.5 781.2 720.7 C783.6 719.9 790.1 721.1 791.1 721.4 C792.1 721.7 795.7 724.5 796.1 725 C796.5 725.5 796.8 728.3 796.8 728.5"/>
<path class="s" d="M796.8 728.5 C798 729.3 802.1 731.4 803.9 733.5 C805.7 735.6 807.3 738.4 807.5 741.3 C807.7 744.1 806.2 748.4 805.3 750.6 C804.3 752.9 802.4 754.1 801.8 754.8"/>
<path class="s" d="M801.8 754.8 L779.7 765.5 L747 776.2"/>
<path class="s" d="M766.9 736.3 C767.9 737 770.5 739 772.6 740.6 C774.7 742.2 777.9 743.7 779.7 745.6 C781.5 747.5 782.8 749.5 783.3 752 C783.8 754.5 783.2 758.2 782.6 760.5 C782 762.8 780.2 764.7 779.7 765.5"/>
<path class="s" d="M769.8 743.4 C770.9 744.1 774.8 746 776.2 747.7 C777.6 749.4 778.2 751 778.3 753.4 C778.4 755.8 777.6 759.9 776.9 761.9 C776.2 763.9 774.6 764.6 774.1 765.1"/>
<path class="s" d="M753.4 745.6 L765.5 739.2 L769.8 742.7 L758.4 749.1Z"/>
<path class="s" d="M754.1 748.9 L759.1 752.7 L769.8 747.4"/>
<path class="s" d="M755.6 734.2 L762.7 739.2"/>
<path class="s" d="M766.9 728.5 L773.3 732.8 L782.6 728.5"/>
<path class="s" d="M779.7 727.1 L784.7 732.1 L795.4 727.1"/>
<path class="k" d="M762.7 736.3 L766.9 736.3 L779.7 729.9"/>
<path class="s" d="M737.1 761.9 L740.2 759.8"/>
<path class="s" d="M743.5 769.3 L747.3 766.5"/>
<!-- bullet terminals -->
<path class="s" d="M765.2 778.3 L776.9 771.2 L781.2 775.5 L794 766.9 L797.5 768.3 L796.8 771.9 L782.6 780 L781.5 782.1 L769.1 789"/>
<ellipse class="w" cx="765.5" cy="783.6" rx="3.4" ry="5.3" transform="rotate(-25 765.5 783.6)"/>
<path class="s" d="M764.4 783.3 L766.4 783.8"/>
<path class="s" d="M784.3 792.2 C785.7 791.2 810.7 774 812.5 773 C814.3 772 819 771.4 819.6 771.6 C820.2 771.8 824.3 775.7 824.6 776.2 C824.9 776.7 827 780.6 825.3 781.9 C823.6 783.2 791.5 801.9 789.7 802.9"/>
<ellipse class="w" cx="785.4" cy="797.5" rx="4.0" ry="5.7" transform="rotate(-28 785.4 797.5)"/>
<path class="s" d="M784.3 797.2 L786.6 798.1"/>
<path class="s" d="M825.3 781.9 C825.7 781.9 832.5 781.1 833.1 781.3 C833.7 781.5 837.8 785.6 838.1 786.1 C838.4 786.6 840.6 790.4 838.8 791.8 C837 793.2 803.3 812.3 801.4 813.4"/>
<ellipse class="w" cx="796.8" cy="808.2" rx="4.0" ry="5.7" transform="rotate(-28 796.8 808.2)"/>
<path class="s" d="M795.7 807.7 L798 808.6"/>
<path class="s" d="M809.3 811.7 L820.3 806 L822.4 807.5 L833.8 800.3 L837.4 801.1 L838.1 804.6 L826 812.9 L825.5 815.3 L814.2 822"/>
<path class="s" d="M820.3 806 L823.8 810 L825.5 815.3"/>
<path class="k" d="M823.8 806 L835.2 799.2"/>
<ellipse class="w" cx="810.5" cy="816.8" rx="3.4" ry="5.3" transform="rotate(-25 810.5 816.8)"/>
<path class="s" d="M809.3 816.6 L811.6 817.3"/>
<!-- cable tie (3) -->
<path class="s" d="M720.2 928.2 L733.7 919.2 L741.2 922.2 L727.7 932Z"/>
<path class="s" d="M720.2 928.2 L719.5 939.5 L727.7 944.7 L727.7 932"/>
<path class="s" d="M741.2 922.2 L740.5 935.7 L737.5 939.8"/>
<path class="s" d="M730.7 934.2 L736.7 931.2 L737.5 933.5 L731.5 936.5Z"/>
<path class="s" d="M727.7 944.7 L727.7 955.2"/>
<path class="s" d="M737.5 939.8 L737.5 952.7"/>
<path class="s" d="M721.7 956.7 L727.7 955.2 L740.5 951.5 L740.8 958.2 L727.7 963.8 L722.5 962.7Z"/>
<path class="s" d="M722.5 957.5 L727.7 958.4 L727.7 963.8"/>
<path class="s" d="M727.7 958.4 L740.5 953.3"/>
<path class="s" d="M725.8 964.2 C725.8 967 725.7 1064.8 725.8 1067.7 C725.9 1070.6 727.5 1072.5 727.7 1072.6 C727.9 1072.7 731.9 1072.3 732.2 1072.2 C732.5 1072.1 737.3 1068 737.5 1067.7 C737.7 1067.4 738.4 1065.3 738.4 1062.4 C738.4 1059.5 738.4 961.8 738.4 959"/>
<path class="s" d="M728.5 964.2 L728.5 1068.4"/>
<path class="s" d="M728.5 995 L738.4 988.7"/>
<path class="s" d="M728.5 1002.2 L738.4 995.9"/>
<path class="s" d="M728.5 1009.4 L738.4 1003.1"/>
<path class="s" d="M728.5 1016.6 L738.4 1010.3"/>
<path class="s" d="M728.5 1023.8 L738.4 1017.5"/>
<path class="s" d="M728.5 1031 L738.4 1024.7"/>
<path class="s" d="M728.5 1038.2 L738.4 1031.9"/>
<path class="s" d="M728.5 1045.4 L738.4 1039.1"/>
<path class="s" d="M738.4 983.7 L791.5 977.7"/>
<!-- bolt (5) -->
<path class="s" d="M625.3 617.7 C624.5 616.6 605.5 590.5 604.7 589.2 C603.9 587.9 605.4 585.9 605.7 585.6 C606 585.3 610.7 582.2 611.1 582.1 C611.5 582 613.6 581 614.7 582.1 C615.8 583.2 636.5 608.7 637.4 609.8"/>
<path class="s" d="M606.2 590.8 C607 590.1 609 587.7 610.7 586.6 C612.4 585.5 615.4 584.4 616.3 584"/>
<path class="s" d="M608.2 593.7 C609 593 611.1 590.5 612.8 589.4 C614.5 588.2 617.5 587.2 618.5 586.8"/>
<path class="s" d="M610.3 596.6 C611.1 595.9 613.2 593.4 615 592.2 C616.8 591 619.8 590 620.8 589.6"/>
<path class="s" d="M612.4 599.5 C613.2 598.8 615.4 596.3 617.2 595.1 C619 593.9 622.1 592.9 623.1 592.4"/>
<path class="s" d="M614.4 602.3 C615.2 601.6 617.5 599.1 619.3 597.9 C621.1 596.7 624.4 595.6 625.4 595.1"/>
<path class="s" d="M616.5 605.2 C617.3 604.5 619.6 601.9 621.5 600.7 C623.4 599.5 626.7 598.4 627.7 597.9"/>
<path class="s" d="M618.5 608.1 C619.4 607.3 621.8 604.7 623.7 603.5 C625.6 602.3 628.9 601.2 629.9 600.7"/>
<path class="s" d="M620.6 611 C621.5 610.2 623.9 607.7 625.8 606.4 C627.7 605.1 631.1 603.9 632.2 603.4"/>
<path class="s" d="M622.7 613.9 C623.6 613.1 626 610.5 628 609.2 C630 607.9 633.4 606.7 634.5 606.2"/>
<path class="s" d="M624.7 616.8 C625.6 616 628.2 613.3 630.2 612 C632.2 610.7 635.7 609.5 636.8 609"/>
<path class="s" d="M626.8 621.9 C626.4 622.6 624.5 624.9 624.2 626.2 C624 627.5 624.2 629.6 625.3 629.7 C626.4 629.8 630 627.4 631 626.9"/>
<path class="s" d="M626.8 621.9 C627.8 620.8 629.4 617.8 632.5 615.5 C635.6 613.2 642.5 609.4 645.3 608.4 C648.1 607.4 648.6 609 649.2 609.8 C649.8 610.6 648.9 612.8 648.8 613.4"/>
<path class="s" d="M631 626.9 L633.9 619.8 L645.3 614.1 L652.4 618.4 L652.7 623.3 L646 631.2 L638.2 636.1 L633.2 634Z"/>
<path class="s" d="M633.9 627.6 C634.3 627.2 637 624.1 638.2 623.3 C639.4 622.4 644.6 619.5 646 619.1 C647.4 618.8 651.8 619.7 652.4 619.8"/>
<path class="s" d="M633.9 619.8 L636.4 624.8"/>
<path class="s" d="M645.3 614.1 L646 618.4"/>
<path class="t" d="M568.4 640 L617.5 609.1"/>
<!-- FWD arrow -->
<path class="s" d="M94.4 1092.1 L112.6 1061.6 L118 1065 L152.9 1046.3 L157.9 1049.3 L157.9 1075.4 L117.5 1096 L117.5 1105.4Z" style="stroke-width:3;stroke-linejoin:miter"/>
<path class="t" d="M99.8 1091.9 L114.5 1066.7 L119 1069.2 L154.4 1050 L155.5 1052.7 L155.5 1074.4" style="stroke-width:1.2"/>
<text class="fwd" transform="matrix(0.655,-0.34,-0.07,0.9,115.0,1093.3)" x="0" y="0">FWD</text>
<!-- callout numbers -->
<text class="n" text-anchor="middle" transform="translate(600.0,370.4) scale(1.2,1)" x="0" y="0">4</text>
<text class="n" text-anchor="middle" transform="translate(555.0,658.3) scale(1.2,1)" x="0" y="0">5</text>
<text class="n" text-anchor="middle" transform="translate(317.1,632.9) scale(1.2,1)" x="0" y="0">6</text>
<text class="n" text-anchor="middle" transform="translate(803.5,987.1) scale(1.2,1)" x="0" y="0">3</text>
<text class="n" text-anchor="middle" transform="translate(635.6,1003.4) scale(1.2,1)" x="0" y="0">2</text>
<clipPath id="c1"><rect x="508.7" y="997" width="3.2" height="22"/></clipPath>
<g clip-path="url(#c1)"><text class="n" text-anchor="middle" transform="translate(509.3,1016.2) scale(1.2,1.13)" x="0" y="0">1</text></g>
<!-- drawing code -->
<text class="code" x="69.2" y="1137.2" textLength="146" lengthAdjust="spacing">4ES6100-7340</text>
</svg>
</body>
</html>
